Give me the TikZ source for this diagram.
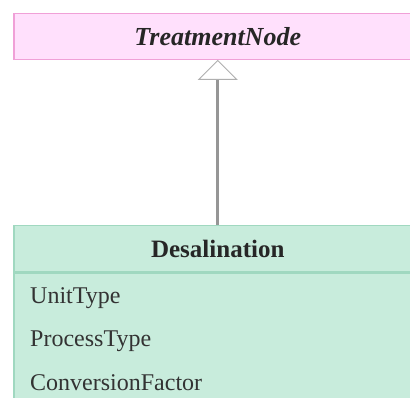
\documentclass[tikz,border=0pt]{standalone}
\usepackage{fontspec}
\setmainfont{Liberation Serif}
\definecolor{pinkfill}{RGB}{255,224,252}
\definecolor{pinkline}{RGB}{240,160,215}
\definecolor{greenfill}{RGB}{200,236,220}
\definecolor{greenline}{RGB}{160,216,192}
\definecolor{connline}{RGB}{150,150,150}
\definecolor{triline}{RGB}{175,175,175}
\tikzset{
  pinkbox/.style={draw=pinkline, fill=pinkfill, line width=1.5pt, inner sep=0pt},
  greenbox/.style={draw=greenline, fill=greenfill, line width=1.5pt, inner sep=0pt},
  attr/.style={inner sep=0pt, font=\fontsize{24}{28}\selectfont, text=black!80},
  conn/.style={draw=connline, line width=3pt},
  tri/.style={draw=triline, fill=white, line width=1pt, line join=miter}
}
\begin{document}
\begin{tikzpicture}[x=1pt,y=1pt]
\useasboundingbox (0,0) rectangle (410,-398);
\node[pinkbox, minimum width=408pt, minimum height=46pt, anchor=north west,
  font=\fontsize{26}{30}\selectfont\bfseries\itshape, text=black!85] (top) at (13,-13) {TreatmentNode};
\node[greenbox, minimum width=408pt, minimum height=46pt, anchor=north west,
  font=\fontsize{25}{29}\selectfont\bfseries, text=black!85] (des) at (13,-225) {Desalination};
\node[greenbox, minimum width=408pt, minimum height=140pt, anchor=north] (body) at (des.south) {};
\node[attr, anchor=west] (a1) at (30,-298) {UnitType};
\node[attr, anchor=west] (a2) at (30,-341) {ProcessType};
\node[attr, anchor=west] (a3) at (30,-383) {ConversionFactor};
\coordinate (tb) at ([yshift=-19pt]top.south);
\draw[conn] (des.north) -- (tb);
\draw[tri] (top.south) -- ++(-19,-19) -- ++(38,0) -- cycle;
\end{tikzpicture}
\end{document}
